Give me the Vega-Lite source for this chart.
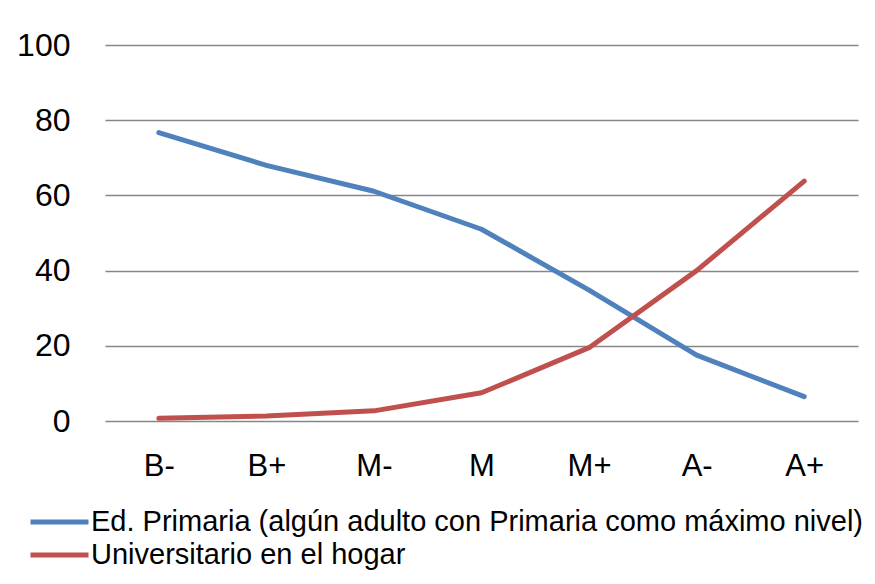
{
  "$schema": "https://vega.github.io/schema/vega-lite/v6.json",
  "autosize": {"type": "none"},
  "padding": {"left": 105, "top": 45, "right": 17, "bottom": 163},
  "width": 753,
  "height": 376,
  "background": "white",
  "config": {
    "font": "Liberation Sans",
    "view": {"stroke": null},
    "axis": {"labelFont": "Liberation Sans", "labelColor": "black"},
    "legend": {"labelFont": "Liberation Sans", "labelColor": "black"}
  },
  "data": {
    "values": [
      {"nivel": "B-", "serie": "Ed. Primaria (algún adulto con Primaria como máximo nivel)", "valor": 76.7},
      {"nivel": "B+", "serie": "Ed. Primaria (algún adulto con Primaria como máximo nivel)", "valor": 68.0},
      {"nivel": "M-", "serie": "Ed. Primaria (algún adulto con Primaria como máximo nivel)", "valor": 61.1},
      {"nivel": "M", "serie": "Ed. Primaria (algún adulto con Primaria como máximo nivel)", "valor": 51.0},
      {"nivel": "M+", "serie": "Ed. Primaria (algún adulto con Primaria como máximo nivel)", "valor": 34.8},
      {"nivel": "A-", "serie": "Ed. Primaria (algún adulto con Primaria como máximo nivel)", "valor": 17.5},
      {"nivel": "A+", "serie": "Ed. Primaria (algún adulto con Primaria como máximo nivel)", "valor": 6.5},
      {"nivel": "B-", "serie": "Universitario en el hogar", "valor": 0.7},
      {"nivel": "B+", "serie": "Universitario en el hogar", "valor": 1.3},
      {"nivel": "M-", "serie": "Universitario en el hogar", "valor": 2.7},
      {"nivel": "M", "serie": "Universitario en el hogar", "valor": 7.5},
      {"nivel": "M+", "serie": "Universitario en el hogar", "valor": 19.5},
      {"nivel": "A-", "serie": "Universitario en el hogar", "valor": 40.0},
      {"nivel": "A+", "serie": "Universitario en el hogar", "valor": 63.8}
    ]
  },
  "mark": {"type": "line", "strokeWidth": 5, "strokeCap": "round", "strokeJoin": "round"},
  "encoding": {
    "x": {
      "field": "nivel",
      "type": "ordinal",
      "sort": ["B-", "B+", "M-", "M", "M+", "A-", "A+"],
      "scale": {"type": "point", "padding": 0.5},
      "axis": {
        "title": null,
        "labelAngle": 0,
        "labelFontSize": 31,
        "labelPadding": 30,
        "ticks": false,
        "domain": false,
        "grid": false
      }
    },
    "y": {
      "field": "valor",
      "type": "quantitative",
      "scale": {"domain": [0, 100]},
      "axis": {
        "title": null,
        "values": [0, 20, 40, 60, 80, 100],
        "labelFontSize": 32,
        "labelPadding": 35,
        "ticks": false,
        "domain": false,
        "grid": true,
        "gridColor": "#868686",
        "gridWidth": 1.5
      }
    },
    "color": {
      "field": "serie",
      "type": "nominal",
      "scale": {
        "domain": ["Ed. Primaria (algún adulto con Primaria como máximo nivel)", "Universitario en el hogar"],
        "range": ["#4F81BD", "#C0504D"]
      },
      "legend": {
        "title": null,
        "orient": "none",
        "legendX": -77,
        "legendY": 460,
        "direction": "vertical",
        "symbolType": "M-1,0H3",
        "symbolSize": 841,
        "symbolStrokeWidth": 5,
        "symbolFillColor": "transparent",
        "labelFontSize": 29,
        "labelOffset": 29,
        "labelLimit": 900,
        "rowPadding": 1
      }
    }
  }
}
